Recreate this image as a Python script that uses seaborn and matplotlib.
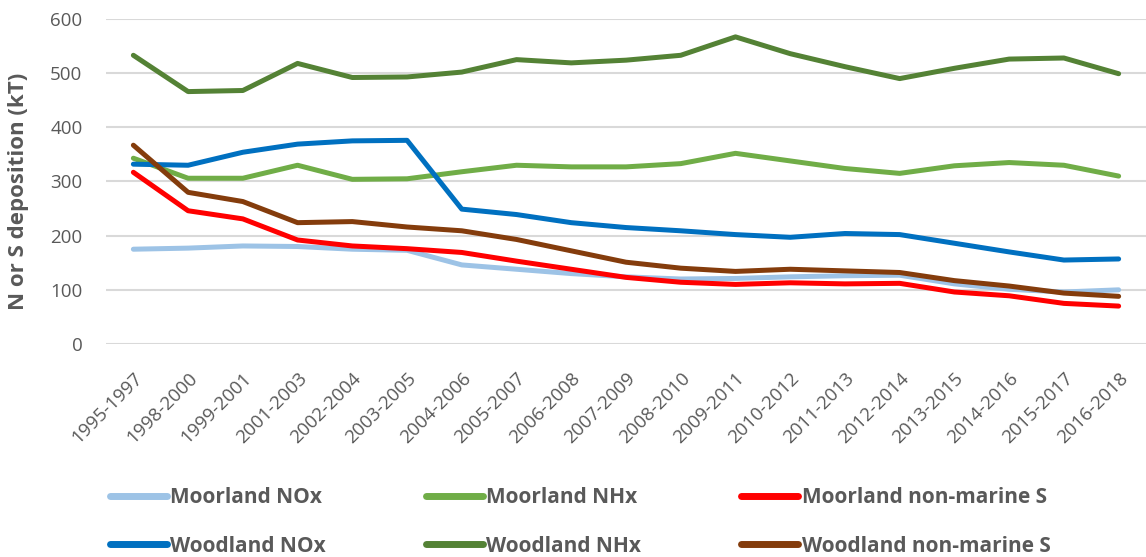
import pandas as pd
import numpy as np
import matplotlib.pyplot as plt
import seaborn as sns

periods = ['1995-1997', '1998-2000', '1999-2001', '2001-2003', '2002-2004', '2003-2005',
           '2004-2006', '2005-2007', '2006-2008', '2007-2009', '2008-2010', '2009-2011',
           '2010-2012', '2011-2013', '2012-2014', '2013-2015', '2014-2016', '2015-2017',
           '2016-2018']

moorland_nox = [175, 177, 181, 180, 175, 173, 146, 138, 130, 124, 120, 121, 124, 126, 127, 111, 101, 96, 100]
moorland_nhx = [343, 306, 306, 330, 304, 305, 318, 330, 327, 327, 333, 352, 338, 324, 315, 329, 335, 330, 310]
moorland_s = [317, 246, 231, 192, 181, 176, 169, 153, 138, 123, 114, 110, 113, 111, 112, 96, 89, 75, 70]
woodland_nox = [332, 330, 354, 369, 375, 376, 249, 239, 224, 215, 209, 202, 197, 204, 202, 186, 170, 155, 157]
woodland_nhx = [533, 466, 468, 518, 492, 493, 502, 525, 519, 524, 533, 567, 536, 512, 490, 509, 526, 528, 499]
woodland_s = [367, 280, 263, 224, 226, 216, 209, 193, 172, 151, 140, 134, 138, 135, 132, 117, 107, 94, 88]

series = {
    'Moorland NOx': moorland_nox,
    'Moorland NHx': moorland_nhx,
    'Moorland non-marine S': moorland_s,
    'Woodland NOx': woodland_nox,
    'Woodland NHx': woodland_nhx,
    'Woodland non-marine S': woodland_s,
}
colors = {
    'Moorland NOx': '#9DC3E6',
    'Moorland NHx': '#70AD47',
    'Moorland non-marine S': '#FF0000',
    'Woodland NOx': '#0070C0',
    'Woodland NHx': '#548235',
    'Woodland non-marine S': '#843C0C',
}

df = pd.DataFrame([
    {'period': p, 'value': v, 'series': name}
    for name, vals in series.items()
    for p, v in zip(periods, vals)
])

sns.set_style('white')
plt.rcParams['font.family'] = ['Open Sans', 'DejaVu Sans']
grey = '#595959'

fig = plt.figure(figsize=(11.46, 5.57), dpi=100)
ax = fig.add_axes([106 / 1146, 1 - 344 / 557, 1 - 106 / 1146, 325 / 557])

sns.lineplot(data=df, x='period', y='value', hue='series', palette=colors,
             hue_order=list(series.keys()), sort=False, linewidth=3.6, ax=ax,
             legend=False)

ax.set_ylim(0, 600)
ax.set_yticks(np.arange(0, 601, 100))
ax.set_xlim(-0.5, 18.5)
ax.yaxis.grid(True, color='#D9D9D9', linewidth=1.5)
ax.set_axisbelow(True)
for s in ax.spines.values():
    s.set_visible(False)

ax.set_xlabel('')
ax.set_ylabel('N or S deposition (kT)', fontsize=16, fontweight='bold', color=grey)
ax.yaxis.set_label_coords(-0.074, 0.47)
ax.tick_params(axis='y', length=0, pad=17, labelsize=13.5, labelcolor=grey)
ax.tick_params(axis='x', length=0, pad=18, labelsize=13.5, labelcolor=grey)
plt.setp(ax.get_xticklabels(), rotation=45, ha='right', rotation_mode='anchor')

# legend: two rows, moorland on top, woodland below
order = ['Moorland NOx', 'Woodland NOx', 'Moorland NHx', 'Woodland NHx',
         'Moorland non-marine S', 'Woodland non-marine S']
handles = [plt.Line2D([0], [0], color=colors[n], linewidth=5, solid_capstyle='round') for n in order]
leg = fig.legend(handles, order, loc='center', bbox_to_anchor=(580 / 1146, 1 - 522 / 557),
                 ncol=3, frameon=False, handlelength=2.75, handletextpad=0.15,
                 columnspacing=4.8, labelspacing=1.3,
                 prop={'size': 15, 'weight': 'bold'})
for t in leg.get_texts():
    t.set_color(grey)

fig.savefig('out.png', dpi=100)
